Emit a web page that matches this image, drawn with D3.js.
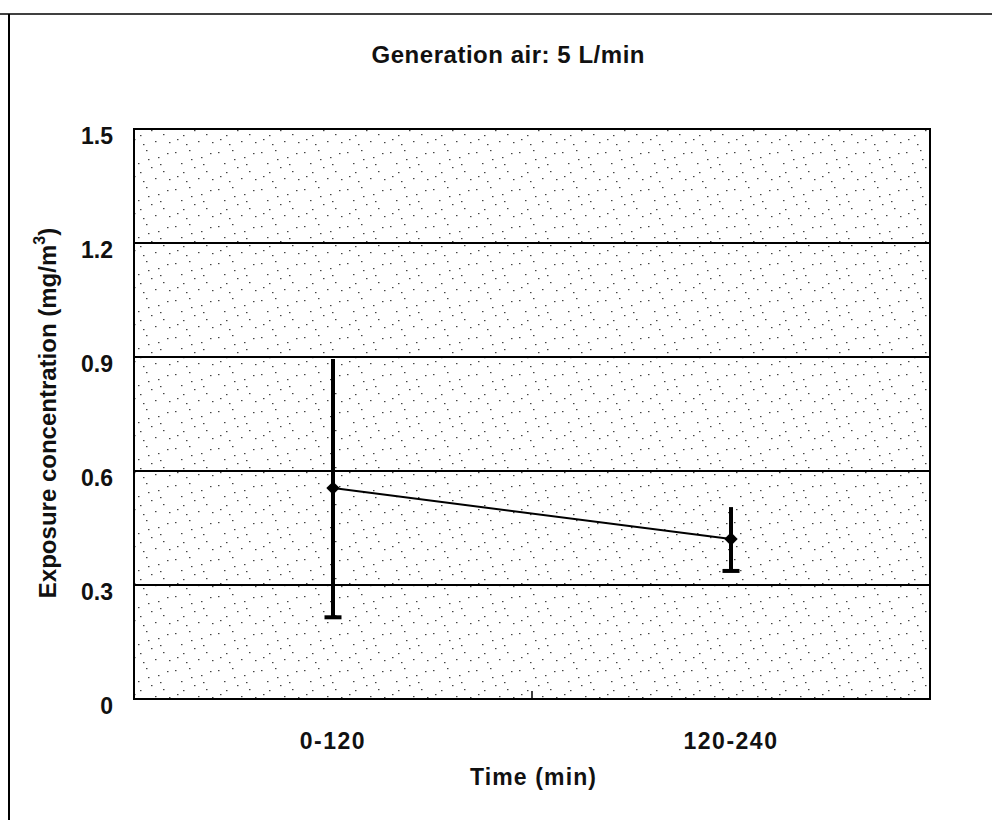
<!DOCTYPE html>
<html>
<head>
<meta charset="utf-8">
<script src="https://cdn.jsdelivr.net/npm/d3@7"></script>
<style>
	body { margin: 0; background: #fff; }
	text { font-family: "Liberation Sans", Arial, sans-serif; font-weight: bold; fill: #111; }
</style>
</head>
<body>
<div class="container"></div>
<script>
// chart values
const categories = ['0-120', '120-240'];
const means = [0.555, 0.421];
const errors = [0.34, 0.084];
const yTicks = [0, 0.3, 0.6, 0.9, 1.2, 1.5];
const yTickLabels = ['0', '0.3', '0.6', '0.9', '1.2', '1.5'];

const width = 992, height = 820;
const plot = { left: 134, right: 930, top: 129, bottom: 699 };

const svg = d3.select('.container')
				.append('svg')
					.attr('width', width)
					.attr('height', height);

// speckled fill of the scanned plot area (fixed dot tile)
const pattern = svg.append('defs')
				.append('pattern')
					.attr('id', 'speckle')
					.attr('patternUnits', 'userSpaceOnUse')
					.attr('width', 43)
					.attr('height', 37);

const dots = [[3, 4], [17, 2], [29, 9], [38, 5], [9, 15], [22, 19], [34, 23],
			  [5, 28], [14, 33], [26, 30], [40, 31], [19, 11], [31, 16], [11, 24]];
pattern.selectAll('rect')
	.data(dots)
		.enter()
	.append('rect')
		.attr('x', d => d[0])
		.attr('y', d => d[1])
		.attr('width', 1.5)
		.attr('height', 1.2)
		.attr('fill', '#444');

// outer frame (top and left edge)
svg.append('line')
	.attr('x1', 0).attr('x2', width)
	.attr('y1', 14).attr('y2', 14)
	.attr('stroke', '#000').attr('stroke-width', 1.5);
svg.append('line')
	.attr('x1', 9).attr('x2', 9)
	.attr('y1', 14).attr('y2', height)
	.attr('stroke', '#000').attr('stroke-width', 2);

const x = d3.scaleBand()
			.domain(categories)
			.range([plot.left, plot.right]);

const y = d3.scaleLinear()
			.domain([0, 1.5])
			.range([plot.bottom, plot.top]);

svg.append('rect')
	.attr('x', plot.left)
	.attr('y', plot.top)
	.attr('width', plot.right - plot.left)
	.attr('height', plot.bottom - plot.top)
	.attr('fill', 'url(#speckle)');

// gridlines
svg.append('g')
	.selectAll('line')
	.data(yTicks.slice(1, -1))
		.enter()
	.append('line')
		.attr('x1', plot.left).attr('x2', plot.right)
		.attr('y1', d => y(d)).attr('y2', d => y(d))
		.attr('stroke', '#000').attr('stroke-width', 2);

svg.append('rect')
	.attr('x', plot.left)
	.attr('y', plot.top)
	.attr('width', plot.right - plot.left)
	.attr('height', plot.bottom - plot.top)
	.attr('fill', 'none')
	.attr('stroke', '#000')
	.attr('stroke-width', 2);

// y axis labels
svg.append('g')
	.selectAll('text')
	.data(yTicks)
		.enter()
	.append('text')
		.attr('x', 113)
		.attr('y', d => y(d) + 15)
		.attr('text-anchor', 'end')
		.attr('font-size', 23)
		.text((d, i) => yTickLabels[i]);

// x axis: category ticks on band edges
svg.append('g')
	.selectAll('line')
	.data(categories.slice(1))
		.enter()
	.append('line')
		.attr('x1', d => x(d)).attr('x2', d => x(d))
		.attr('y1', plot.bottom).attr('y2', plot.bottom - 8)
		.attr('stroke', '#000').attr('stroke-width', 1.5);

svg.append('g')
	.selectAll('text')
	.data(categories)
		.enter()
	.append('text')
		.attr('x', d => x(d) + x.bandwidth() / 2)
		.attr('y', 749)
		.attr('text-anchor', 'middle')
		.attr('font-size', 23)
		.attr('letter-spacing', 1.5)
		.text(d => d);

// titles
svg.append('text')
	.attr('x', 508)
	.attr('y', 63)
	.attr('text-anchor', 'middle')
	.attr('font-size', 24)
	.attr('textLength', 273)
	.attr('lengthAdjust', 'spacing')
	.text('Generation air: 5 L/min');

svg.append('text')
	.attr('x', 533)
	.attr('y', 785)
	.attr('text-anchor', 'middle')
	.attr('font-size', 23)
	.attr('textLength', 126)
	.attr('lengthAdjust', 'spacing')
	.text('Time (min)');

const yLabel = svg.append('text')
				.attr('transform', `translate(56, 413) rotate(-90)`)
				.attr('text-anchor', 'middle')
				.attr('font-size', 24);
yLabel.append('tspan').text('Exposure concentration (mg/m');
yLabel.append('tspan').attr('dy', -11).attr('font-size', 16).text('3');
yLabel.append('tspan').attr('dy', 11).text(')');

// data
const points = categories.map((c, i) => ({ cx: x(c) + x.bandwidth() / 2, mean: means[i], err: errors[i] }));

svg.append('path')
	.datum(points)
	.attr('fill', 'none')
	.attr('stroke', '#000')
	.attr('stroke-width', 2)
	.attr('d', d3.line().x(d => d.cx).y(d => y(d.mean)));

const bars = svg.append('g')
				.selectAll('g')
				.data(points)
					.enter()
				.append('g');

bars.append('line')
	.attr('x1', d => d.cx).attr('x2', d => d.cx)
	.attr('y1', d => y(d.mean + d.err)).attr('y2', d => y(d.mean - d.err))
	.attr('stroke', '#000').attr('stroke-width', 4);

bars.append('line')
	.attr('x1', d => d.cx - 8.5).attr('x2', d => d.cx + 8.5)
	.attr('y1', d => y(d.mean - d.err)).attr('y2', d => y(d.mean - d.err))
	.attr('stroke', '#000').attr('stroke-width', 4);

bars.append('path')
	.attr('transform', d => `translate(${ d.cx }, ${ y(d.mean) })`)
	.attr('d', d3.symbol(d3.symbolDiamond2, 115))
	.attr('fill', '#000');
</script>
</body>
</html>
